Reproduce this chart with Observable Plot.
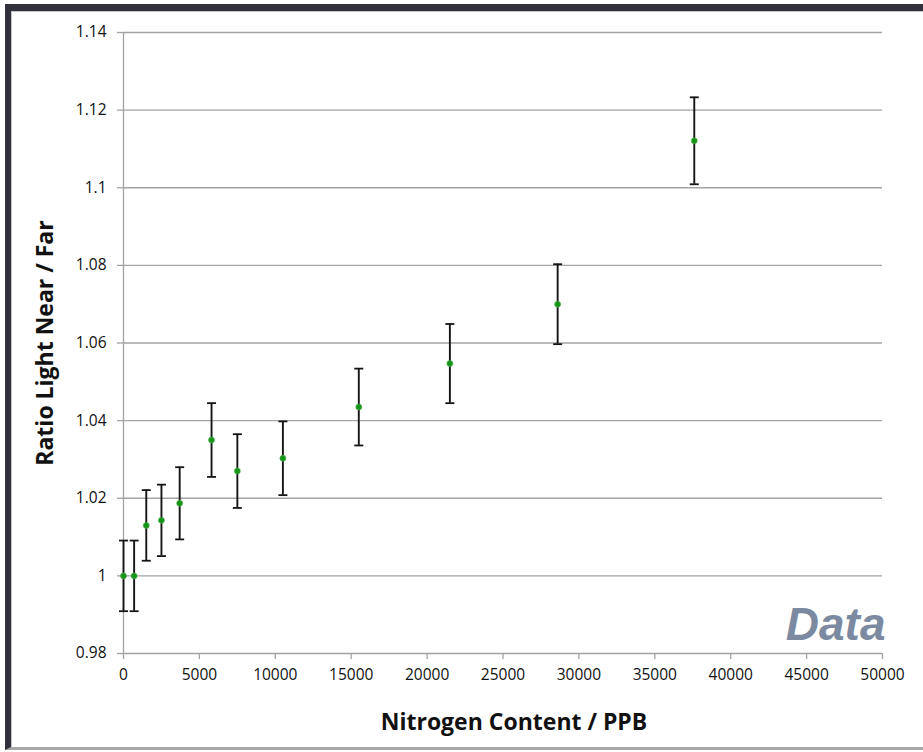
<!DOCTYPE html>
<html>
<head>
<meta charset="utf-8">
<script src="https://cdn.jsdelivr.net/npm/d3@7"></script>
<script src="https://cdn.jsdelivr.net/npm/@observablehq/plot@0.6"></script>
<style>
  html, body { margin: 0; padding: 0; background: #fff; }
  #wrap { position: relative; width: 923px; height: 752px; overflow: hidden; }
  #wrap svg { position: absolute; left: 0; top: 0; }
  #frame { position: absolute; left: 5px; top: 4px; width: 940px; height: 746px; box-sizing: border-box;
    border-left: 6px solid #30313b; border-top: 7px solid #30313b; border-bottom: 3px solid #a8a8a8; pointer-events: none; }
  #inner { position: absolute; left: 0; top: 0; right: 0; bottom: 0; border-left: 1px solid #c4c4c4; border-top: 1px solid #c4c4c4; }
</style>
</head>
<body>
<div id="wrap"><div id="frame"><div id="inner"></div></div></div>
<script>
// Data
const nitrogen = [0, 700, 1500, 2500, 3700, 5800, 7500, 10500, 15500, 21500, 28600, 37600];
const ratio    = [1.0, 1.0, 1.013, 1.0143, 1.0187, 1.035, 1.027, 1.0303, 1.0435, 1.0547, 1.070, 1.1121];
const errors   = [0.0091, 0.0091, 0.0091, 0.0092, 0.0093, 0.0095, 0.0095, 0.0095, 0.0099, 0.0102, 0.0103, 0.0112];

const yTicks = [0.98, 1.0, 1.02, 1.04, 1.06, 1.08, 1.1, 1.12, 1.14];
const yTickLabels = ["0.98", "1", "1.02", "1.04", "1.06", "1.08", "1.1", "1.12", "1.14"];
const xTicks = [0, 5000, 10000, 15000, 20000, 25000, 30000, 35000, 40000, 45000, 50000];
const xTickLabels = ["0", "5000", "10000", "15000", "20000", "25000", "30000", "35000", "40000", "45000", "50000"];

const xLabel = "Nitrogen Content / PPB";
const yLabel = "Ratio Light Near / Far";
const watermark = "Data";

const rows = nitrogen.map((x, i) => ({x, y: ratio[i], e: errors[i]}));

// horizontal bar symbol for error-bar caps
const capSymbol = {
  draw(context, size) {
    const r = Math.sqrt(size / Math.PI);
    context.moveTo(-r, 0);
    context.lineTo(r, 0);
  }
};

const font = "'Open Sans', 'DejaVu Sans', sans-serif";

const chart = Plot.plot({
  width: 923,
  height: 752,
  marginLeft: 123,
  marginRight: 41,
  marginTop: 32,
  marginBottom: 99,
  style: {fontFamily: font, fontSize: "15.5px", color: "#111", background: "transparent"},
  x: {domain: [0, 50000]},
  y: {domain: [0.98, 1.14]},
  marks: [
    Plot.gridY(yTicks, {stroke: "#a3a3a3", strokeOpacity: 1, strokeWidth: 1.3}),
    Plot.ruleX([0], {stroke: "#a3a3a3", strokeWidth: 1.3}),
    Plot.axisY(yTicks, {
      tickFormat: (d) => yTickLabels[yTicks.indexOf(d)],
      tickSize: 6, tickPadding: 11, stroke: "#a3a3a3", strokeWidth: 1.3, label: null,
      fontSize: 15.5, fill: "#111"
    }),
    Plot.axisX(xTicks, {
      tickFormat: (d) => xTickLabels[xTicks.indexOf(d)],
      tickSize: 6, tickPadding: 9, stroke: "#a3a3a3", strokeWidth: 1.3, label: null,
      fontSize: 15.5, fill: "#111"
    }),
    Plot.ruleX(rows, {x: "x", y1: (d) => d.y - d.e, y2: (d) => d.y + d.e, stroke: "#151515", strokeWidth: 1.9}),
    Plot.dot(rows, {x: "x", y: (d) => d.y + d.e, symbol: capSymbol, r: 4.5, stroke: "#151515", strokeWidth: 1.8}),
    Plot.dot(rows, {x: "x", y: (d) => d.y - d.e, symbol: capSymbol, r: 4.5, stroke: "#151515", strokeWidth: 1.8}),
    Plot.dot(rows, {x: "x", y: "y", r: 3, fill: "#17941a", stroke: "#4fb34f", strokeWidth: 0.6}),
    Plot.text([xLabel], {frameAnchor: "bottom", dx: 11, dy: 69, textAnchor: "middle", lineAnchor: "middle", fontSize: 23, fontWeight: "bold", fill: "#111"}),
    Plot.text([yLabel], {frameAnchor: "left", dx: -78, dy: 0, rotate: -90, textAnchor: "middle", lineAnchor: "middle", fontSize: 23, fontWeight: "bold", fill: "#111"}),
    Plot.text([watermark], {frameAnchor: "bottom-right", dx: 3, dy: -14, textAnchor: "end", lineAnchor: "bottom",
      fontSize: 46, fontWeight: "bold", fontStyle: "italic", fill: "#7b8aa0", fontFamily: "'Liberation Sans', Arial, sans-serif"})
  ]
});

document.getElementById("wrap").insertBefore(chart, document.getElementById("frame"));
</script>
</body>
</html>
